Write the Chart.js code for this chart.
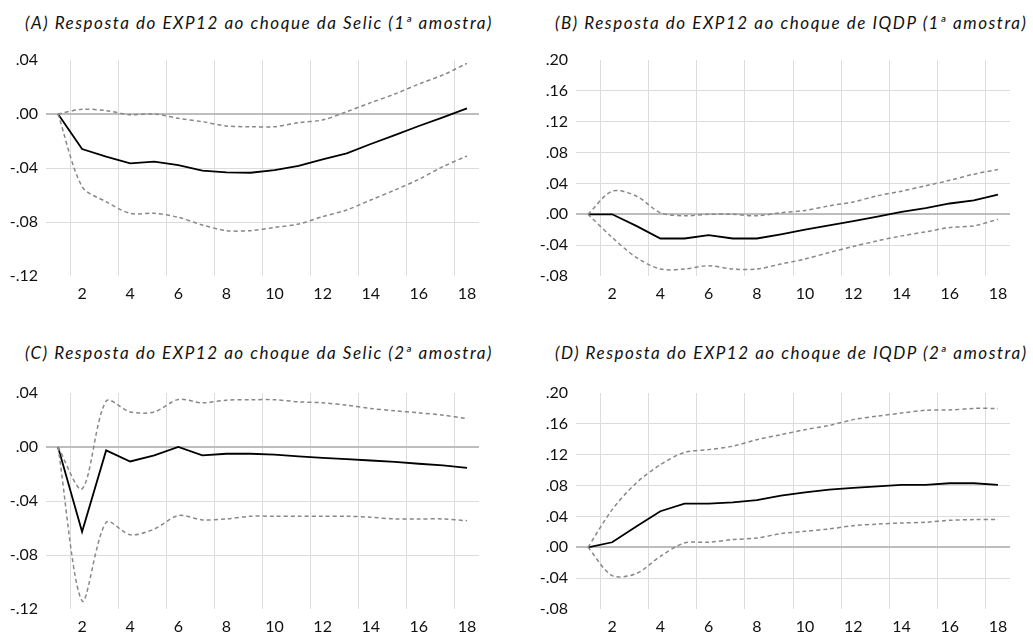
<!DOCTYPE html>
<html>
<head>
<meta charset="utf-8">
<script src="https://cdn.jsdelivr.net/npm/chart.js@4/dist/chart.umd.min.js"></script>
<style>
  html, body { margin:0; padding:0; background:#fff; overflow:hidden; }
  body { width:1033px; height:632px; position:relative; }
  .panel { position:absolute; }
  .ttl { position:absolute; font-family:'Lato', sans-serif; font-style:italic; font-size:17px; line-height:20px; color:#111; white-space:nowrap; }
</style>
</head>
<body>
<div class="ttl" id="tA" style="left:25px; top:13px;">(A) Resposta do EXP12 ao choque da Selic (1ª amostra)</div>
<div class="ttl" id="tB" style="left:555px; top:13px;">(B) Resposta do EXP12 ao choque de IQDP (1ª amostra)</div>
<div class="ttl" id="tC" style="left:25px; top:343px;">(C) Resposta do EXP12 ao choque da Selic (2ª amostra)</div>
<div class="ttl" id="tD" style="left:555px; top:343px;">(D) Resposta do EXP12 ao choque de IQDP (2ª amostra)</div>
<div class="panel" style="left:0; top:0; width:516px; height:299px;"><canvas id="cA"></canvas></div>
<div class="panel" style="left:516px; top:0; width:517px; height:299px;"><canvas id="cB"></canvas></div>
<div class="panel" style="left:0; top:333px; width:516px; height:299px;"><canvas id="cC"></canvas></div>
<div class="panel" style="left:516px; top:333px; width:517px; height:299px;"><canvas id="cD"></canvas></div>
<script>
// ---- data ----
const periods = [1,2,3,4,5,6,7,8,9,10,11,12,13,14,15,16,17,18];

const yTicksAC = [-0.12, -0.08, -0.04, 0.00, 0.04];
const yTicksBD = [-0.08, -0.04, 0.00, 0.04, 0.08, 0.12, 0.16, 0.20];

const aResp  = [0, -0.026, -0.0316, -0.0365, -0.0353, -0.0378, -0.042, -0.0432, -0.0435, -0.0415, -0.0385, -0.0336, -0.0291, -0.0222, -0.0156, -0.0089, -0.0025, 0.0042];
const aUpper = [0, 0.0035, 0.0025, -0.0005, 0, -0.0032, -0.0057, -0.0089, -0.0094, -0.0094, -0.0064, -0.0044, 0.0017, 0.0084, 0.0148, 0.0222, 0.0289, 0.0375];
const aLower = [0, -0.0538, -0.065, -0.0736, -0.0736, -0.0765, -0.0822, -0.0864, -0.0864, -0.084, -0.0815, -0.076, -0.0711, -0.0637, -0.0563, -0.0484, -0.039, -0.0311];

const bResp  = [0, 0, -0.015, -0.0314, -0.0314, -0.027, -0.0314, -0.0314, -0.026, -0.020, -0.0145, -0.009, -0.003, 0.003, 0.008, 0.014, 0.018, 0.0255];
const bUpper = [0, 0.030, 0.0237, 0.002, -0.002, 0, 0, -0.002, 0.002, 0.005, 0.011, 0.016, 0.024, 0.030, 0.037, 0.044, 0.052, 0.058];
const bLower = [0, -0.030, -0.056, -0.071, -0.071, -0.0667, -0.071, -0.071, -0.0645, -0.058, -0.0495, -0.0417, -0.0344, -0.028, -0.0228, -0.0172, -0.015, -0.0065];

const cResp  = [0, -0.0627, -0.0025, -0.0107, -0.0062, 0, -0.0062, -0.005, -0.005, -0.0057, -0.007, -0.008, -0.009, -0.010, -0.011, -0.0124, -0.0136, -0.0154];
const cUpper = [0, -0.031, 0.034, 0.026, 0.026, 0.0352, 0.0327, 0.0347, 0.035, 0.035, 0.0335, 0.0327, 0.031, 0.0285, 0.0268, 0.0253, 0.0236, 0.021];
const cLower = [0, -0.114, -0.0558, -0.065, -0.0608, -0.0508, -0.054, -0.0533, -0.0513, -0.0513, -0.0513, -0.0513, -0.0513, -0.052, -0.0533, -0.0533, -0.0533, -0.0546];

const dResp  = [0, 0.0065, 0.027, 0.0467, 0.0566, 0.0566, 0.0583, 0.061, 0.067, 0.0713, 0.0747, 0.077, 0.079, 0.0808, 0.0808, 0.083, 0.083, 0.0808];
const dUpper = [0, 0.0488, 0.0834, 0.107, 0.123, 0.1266, 0.131, 0.1395, 0.146, 0.1525, 0.158, 0.1655, 0.17, 0.174, 0.1776, 0.178, 0.18, 0.18];
const dLower = [0, -0.0367, -0.034, -0.0117, 0.0056, 0.0065, 0.01, 0.012, 0.0177, 0.0207, 0.0238, 0.028, 0.030, 0.0315, 0.0324, 0.035, 0.0359, 0.0359];

// ---- title letter spacing to match reference widths ----
const titleWidths = { tA: 468, tB: 473, tC: 468, tD: 473 };
(function fitTitles(){
  const cv = document.createElement('canvas').getContext('2d');
  cv.font = "italic 17px Lato";
  for (const id in titleWidths) {
    const el = document.getElementById(id);
    const txt = el.textContent;
    const w = cv.measureText(txt).width;
    const ls = (titleWidths[id] - w) / (txt.length);
    el.style.letterSpacing = ls.toFixed(3) + 'px';
  }
})();

// ---- chart factory ----
const FONT = { family: 'Lato', size: 16 };
function fmt(v) {
  if (Math.abs(v) < 1e-9) return '.00';
  const s = Math.abs(v).toFixed(2).replace(/^0/, '');
  return (v < 0 ? '-' : '') + s;
}

function makeChart(id, resp, upper, lower, yTicks, yAxisWidth, rightPad) {
  const yMin = yTicks[0], yMax = yTicks[yTicks.length - 1];
  const band = (data) => ({
    data, borderColor: '#888888', borderWidth: 1.5, borderDash: [4, 3],
    pointRadius: 0, tension: 0.3, fill: false
  });
  return new Chart(document.getElementById(id), {
    type: 'line',
    data: {
      labels: periods,
      datasets: [
        band(upper),
        band(lower),
        { data: resp, borderColor: '#000', borderWidth: 1.8, pointRadius: 0, tension: 0, fill: false }
      ]
    },
    options: {
      responsive: true,
      maintainAspectRatio: false,
      animation: false,
      events: [],
      layout: { padding: { left: 0, top: 60, right: rightPad, bottom: 0 } },
      plugins: { legend: { display: false }, title: { display: false }, tooltip: { enabled: false } },
      scales: {
        x: {
          type: 'category',
          offset: true,
          border: { display: false },
          grid: {
            offset: true,
            drawTicks: false,
            color: (ctx) => (ctx.type === 'tick' && ctx.index % 2 === 1) ? '#dcdcdc' : 'rgba(0,0,0,0)',
            lineWidth: 1
          },
          ticks: {
            autoSkip: false, maxRotation: 0, padding: 8,
            color: '#111', font: FONT,
            callback: function (val, i) { const p = periods[i]; return p % 2 === 0 ? String(p) : ''; }
          },
          afterFit: (s) => { s.height = 23; }
        },
        y: {
          min: yMin, max: yMax,
          border: { display: false },
          afterBuildTicks: (s) => { s.ticks = yTicks.map(v => ({ value: v })); },
          afterFit: (s) => { s.width = yAxisWidth; },
          grid: {
            drawTicks: false,
            color: (ctx) => {
              if (!ctx.tick) return 'rgba(0,0,0,0)';
              const v = ctx.tick.value;
              if (Math.abs(v) < 1e-9) return '#bdbdbd';
              if (Math.abs(v - yMin) < 1e-9 || Math.abs(v - yMax) < 1e-9) return 'rgba(0,0,0,0)';
              return '#dcdcdc';
            },
            lineWidth: (ctx) => (ctx.tick && Math.abs(ctx.tick.value) < 1e-9) ? 2 : 1
          },
          ticks: {
            padding: 8, color: '#111', font: FONT,
            callback: (v) => fmt(v)
          }
        }
      }
    }
  });
}

makeChart('cA', aResp, aUpper, aLower, yTicksAC, 46, 37);
makeChart('cB', bResp, bUpper, bLower, yTicksBD, 60, 23);
makeChart('cC', cResp, cUpper, cLower, yTicksAC, 46, 37);
makeChart('cD', dResp, dUpper, dLower, yTicksBD, 60, 23);
</script>
</body>
</html>
